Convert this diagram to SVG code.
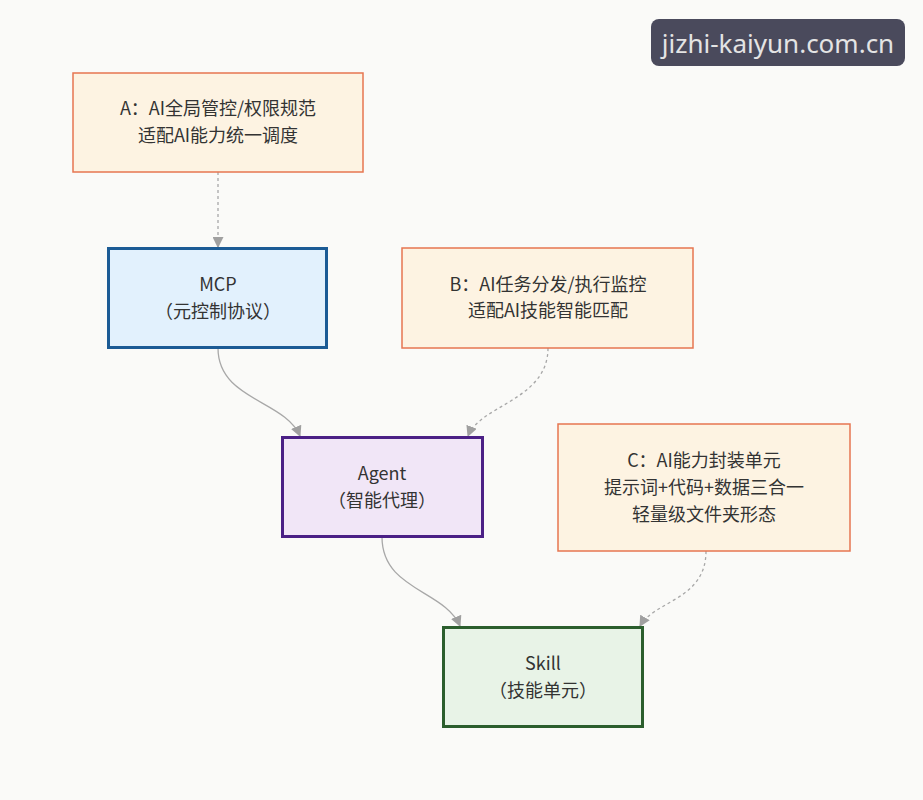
<svg xmlns="http://www.w3.org/2000/svg" width="923" height="800" viewBox="0 0 923 800">
<defs>
<style>
.t{font-family:"Noto Sans CJK SC","Noto Sans",sans-serif;font-size:18px;fill:#333;text-anchor:middle}
.note rect{fill:#fdf3e2;stroke:#e67650;stroke-width:1.5}
.e{fill:none;stroke:#a8a8a8;stroke-width:1.3}
.d{stroke-dasharray:3 3}
</style>
<marker id="ar" viewBox="0 0 10 10" refX="9" refY="5" markerWidth="11" markerHeight="11" markerUnits="userSpaceOnUse" orient="auto">
<path d="M0,0 L10,5 L0,10 z" fill="#a0a0a0"/>
</marker>
</defs>
<rect width="923" height="800" fill="#fafaf8"/>
<g id="connectors">
<path class="e d" d="M218,172 L218,247" marker-end="url(#ar)"/>
<path class="e" d="M218,348 C218,400 285,400 300,436" marker-end="url(#ar)"/>
<path class="e d" d="M548,348 C548,400 480,405 468,436" marker-end="url(#ar)"/>
<path class="e" d="M382,537 C382,590 445,590 460,626" marker-end="url(#ar)"/>
<path class="e d" d="M706,551 C706,600 655,600 640,626" marker-end="url(#ar)"/>
</g>
<g id="A" class="note">
<rect x="73" y="73" width="290" height="99"/>
<text class="t" x="218" y="115">A：AI全局管控/权限规范</text>
<text class="t" x="218" y="142">适配AI能力统一调度</text>
</g>
<g id="MCP">
<rect x="108.5" y="248.5" width="218" height="99" fill="#e2f1fd" stroke="#1b5b95" stroke-width="3"/>
<text class="t" x="218" y="291">MCP</text>
<text class="t" x="218" y="318">（元控制协议）</text>
</g>
<g id="B" class="note">
<rect x="402" y="248" width="291" height="100"/>
<text class="t" x="548" y="291">B：AI任务分发/执行监控</text>
<text class="t" x="548" y="317">适配AI技能智能匹配</text>
</g>
<g id="Agent">
<rect x="282.5" y="437.5" width="200" height="99" fill="#f1e6f7" stroke="#4b2086" stroke-width="3"/>
<text class="t" x="382" y="480">Agent</text>
<text class="t" x="382" y="507">（智能代理）</text>
</g>
<g id="C" class="note">
<rect x="558" y="424" width="292" height="127"/>
<text class="t" x="704" y="467">C：AI能力封装单元</text>
<text class="t" x="704" y="494">提示词+代码+数据三合一</text>
<text class="t" x="704" y="521">轻量级文件夹形态</text>
</g>
<g id="Skill">
<rect x="443.5" y="627.5" width="199" height="99" fill="#e8f3e7" stroke="#2b5e2d" stroke-width="3"/>
<text class="t" x="543" y="670">Skill</text>
<text class="t" x="543" y="697">（技能单元）</text>
</g>
<g id="watermark">
<rect x="651" y="19" width="254" height="47" rx="8" fill="#4a4a5c"/>
<text x="778" y="53" font-family="Noto Sans,sans-serif" font-size="26" fill="#e4e4e4" text-anchor="middle">jizhi-kaiyun.com.cn</text>
</g>
</svg>
